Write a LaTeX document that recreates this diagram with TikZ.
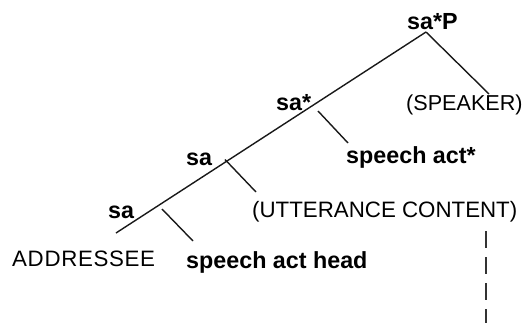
\documentclass[tikz,border=0pt]{standalone}
\usepackage{fontspec}
\setmainfont{Liberation Sans}
\begin{document}
\begin{tikzpicture}[x=1pt,y=-1pt,
  lbl/.style={anchor=base west,inner sep=0pt,font=\fontsize{22.3}{24}\selectfont},
  blbl/.style={anchor=base west,inner sep=0pt,font=\fontsize{23.3}{25}\selectfont\bfseries},
  edge/.style={line width=1.4pt,black!90},
  dashline/.style={line width=1.3pt,black!80,dash pattern=on 17pt off 9pt}]
\useasboundingbox (0,0) rectangle (525,322);
% labels
\node[blbl] (saP) at (407,29.5) {sa*P};
\node[lbl,font=\fontsize{21.6}{24}\selectfont] (speaker) at (406,110) {(SPEAKER)};
\node[blbl] (sastar) at (276,110) {sa*};
\node[blbl] (sactstar) at (346,163) {speech act*};
\node[blbl] (saU) at (186,165) {sa};
\node[lbl] (utt) at (252,217) {(UTTERANCE CONTENT)};
\node[blbl] (saL) at (108,218) {sa};
\node[lbl,font=\fontsize{22.3}{24}\selectfont\addfontfeatures{LetterSpace=3}] (addr) at (12,266) {ADDRESSEE};
\node[blbl] (sahead) at (186,268) {speech act head};
% junction points
\coordinate (apex) at (426,32);
\coordinate (spkend) at (489,94);
\coordinate (low) at (116,233);
\coordinate (b1s) at (318,111);
\coordinate (b1e) at (348,143);
\coordinate (b2s) at (225,159.5);
\coordinate (b2e) at (256,192);
\coordinate (b3s) at (162,209);
\coordinate (b3e) at (193,241);
\coordinate (ds) at (486,231);
\coordinate (de) at (486,330);
% connectors
\draw[edge] (apex) -- (low);
\draw[edge] (apex) -- (spkend);
\draw[edge] (b1s) -- (b1e);
\draw[edge] (b2s) -- (b2e);
\draw[edge] (b3s) -- (b3e);
\draw[dashline] (ds) -- (de);
\end{tikzpicture}
\end{document}
